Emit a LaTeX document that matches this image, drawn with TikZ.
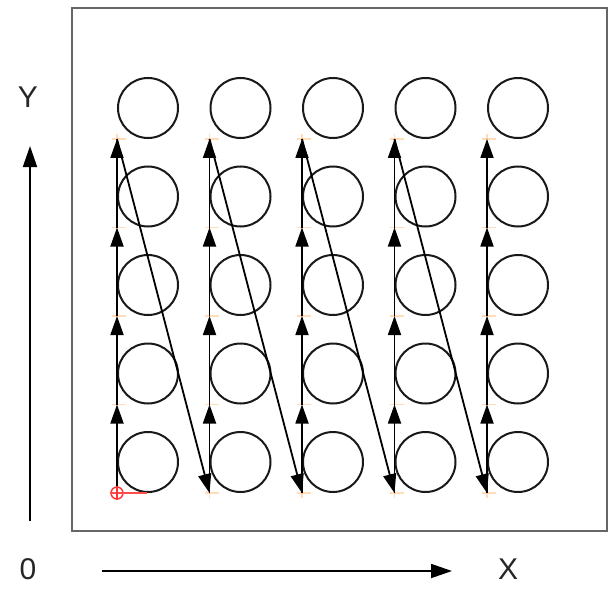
\documentclass[tikz,border=0pt]{standalone}
\usepackage{fontspec}
\setmainfont{Liberation Sans}
\usetikzlibrary{arrows.meta,calc}
\begin{document}
\begin{tikzpicture}[x=1pt,y=-1pt,
  ring/.style={draw=black!90,line width=2pt,circle,minimum size=60pt,inner sep=0pt},
  flow/.style={line width=1.8pt,-{Triangle[length=19pt,width=13pt]}},
  axis/.style={line width=1.8pt,-{Triangle[length=21pt,width=14pt]}},
  ptmark/.style={draw=orange!60,opacity=0.45,line width=1.2pt},
  lbl/.style={font=\fontsize{30}{32}\selectfont,inner sep=0pt,text=black!85}]
\useasboundingbox (0,0) rectangle (612,588);
\draw[draw=black!60,line width=2.8pt] (72,8) rectangle (607,531);
% points and circles
\foreach \i in {0,...,4}{
  \foreach \j in {0,...,4}{
    \coordinate (p\i\j) at ({117+92.5*\i},{493-88.5*\j});
    \node[ring] (c\i\j) at ({148+92.5*\i},{462-88.5*\j}) {};
    \draw[ptmark] ($(p\i\j)+(-5,0)$) -- ++(14,0);
    \draw[ptmark] ($(p\i\j)+(0,-5)$) -- ++(0,10);
  }
}
% vertical arrows
\foreach \i in {0,...,4}{
  \foreach \j/\k in {0/1,1/2,2/3,3/4}{
    \draw[flow] (p\i\j) -- (p\i\k);
  }
}
% diagonal arrows
\foreach \i/\n in {0/1,1/2,2/3,3/4}{
  \draw[flow] (p\i4) -- (p\n0);
}
% origin marker
\draw[red!80,line width=1.4pt] (p00) circle (6pt);
\draw[red!70,line width=1.4pt] ($(p00)+(-7,0)$) -- ($(p00)+(30,0)$);
\draw[red!80,line width=1.2pt] ($(p00)+(0,-7)$) -- ($(p00)+(0,7)$);
% axes
\node[lbl] (ylab) at (28,97) {Y};
\node[lbl] (zero) at (28,569) {0};
\node[lbl] (xlab) at (508,569) {X};
\coordinate (ys) at (30,521);
\coordinate (ye) at (30,146);
\coordinate (xs) at (102,571);
\coordinate (xe) at (452,571);
\draw[axis] (ys) -- (ye);
\draw[axis] (xs) -- (xe);
\end{tikzpicture}
\end{document}
